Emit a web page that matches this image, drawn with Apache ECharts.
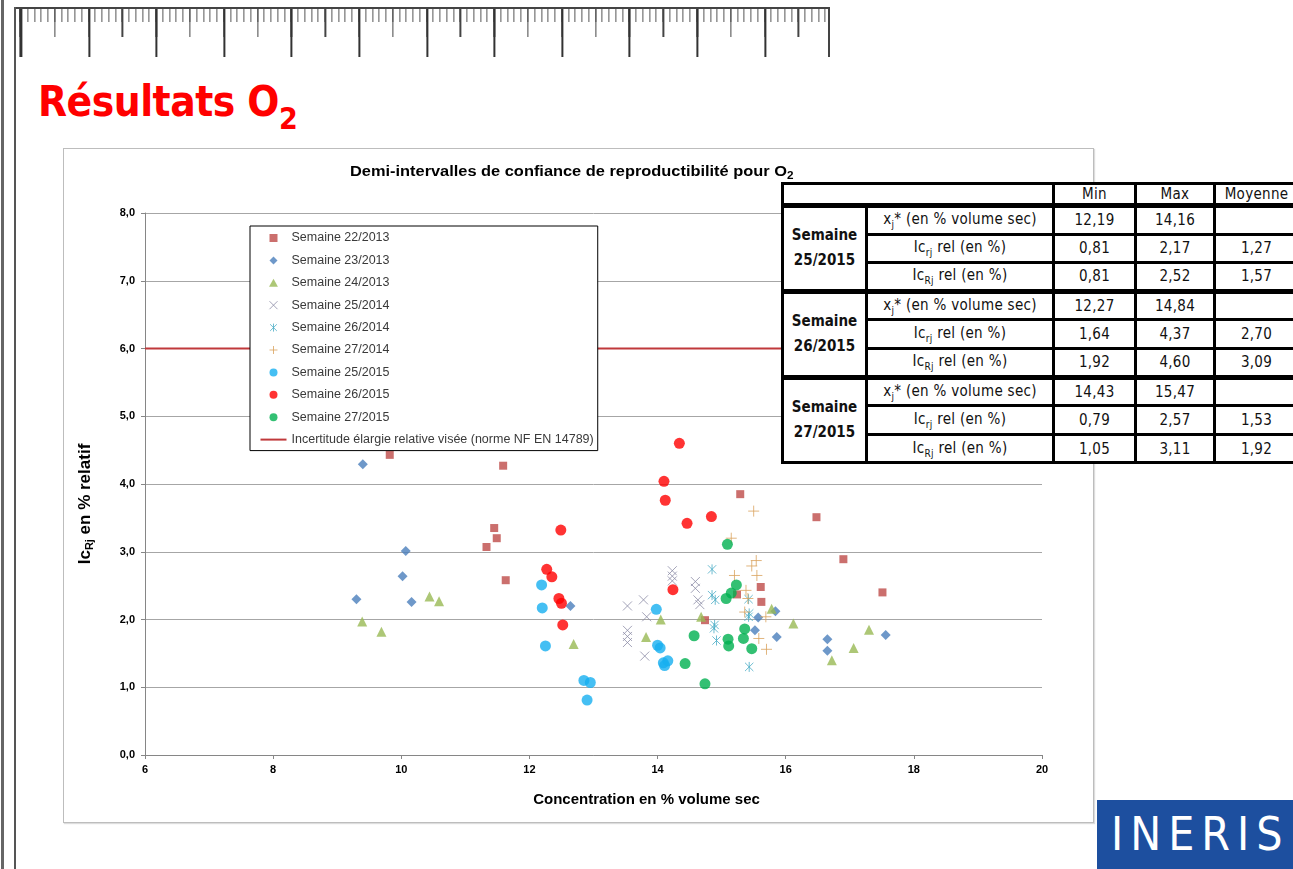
<!DOCTYPE html>
<html>
<head>
<meta charset="utf-8">
<script src="https://cdn.jsdelivr.net/npm/echarts@6/dist/echarts.min.js"></script>
<style>
body{margin:0;width:1293px;height:869px;background:#fff;position:relative;overflow:hidden;font-family:"DejaVu Sans Condensed","DejaVu Sans",sans-serif}
#bordL1{position:absolute;left:1px;top:0;width:3px;height:869px;background:#666}
#bordL2{position:absolute;left:14px;top:7px;width:2px;height:862px;background:#555}
#ruler{position:absolute;left:16px;top:7px;width:812px;height:48px;border-top:2px solid #444;border-right:2px solid #444;
  background-image:
    repeating-linear-gradient(to right,#333 0 2px,transparent 2px 67.6px),
    repeating-linear-gradient(to right,#444 0 1.5px,transparent 1.5px 33.8px),
    repeating-linear-gradient(to right,#555 0 1px,transparent 1px 6.76px);
  background-size:100% 48px,100% 28px,100% 13px;
  background-repeat:repeat-x;
  background-position:4.4px 0,4.4px 0,4.4px 0}
#titre{position:absolute;left:38px;top:77px;color:#f00;font-weight:bold;font-size:42px;letter-spacing:-0.5px}
#titre sub{font-size:30px;vertical-align:-13px;line-height:0}
#cadre{position:absolute;left:63px;top:148px;width:1029px;height:673px;border:1px solid #bdbdbd;box-shadow:1px 1px 1px #ddd}
#chart{position:absolute;left:0;top:0;width:1293px;height:869px}
#tab{position:absolute;left:781px;top:182px;border-collapse:collapse;font-size:15px;letter-spacing:0.3px;color:#111;background:#fff;table-layout:fixed;width:516px}
#tab td{border:3px solid #000;text-align:center;padding:0;white-space:nowrap;overflow:visible}
#tab tr{height:28.6px}
#tab tr.h{height:22px}
#tab td.sem{font-weight:bold;line-height:25px;letter-spacing:0}
#tab tr.g td{border-top-width:5px}
#tab sub{font-size:10px;color:#111}
#logo{position:absolute;left:1097px;top:800px;width:196px;height:69px;background:#1d4f9f;color:#fff;font-family:"DejaVu Sans Condensed","DejaVu Sans",sans-serif;font-size:46px;line-height:69px;text-indent:14px;letter-spacing:7px}
</style>
</head>
<body>
<div id="bordL1"></div>
<div id="bordL2"></div>
<div id="ruler"></div>
<div id="titre">Résultats O<sub>2</sub></div>
<div id="cadre"></div>
<div id="chart"></div>
<table id="tab"></table>
<div id="logo">INERIS</div>
<script>
// noms des séries
var semaines = ['Semaine 22/2013', 'Semaine 23/2013', 'Semaine 24/2013', 'Semaine 25/2014', 'Semaine 26/2014',
    'Semaine 27/2014', 'Semaine 25/2015', 'Semaine 26/2015', 'Semaine 27/2015'];
var nomSeuil = 'Incertitude élargie relative visée (norme NF EN 14789)';

// [concentration, IcRj]
var s22_2013 = [[9.82, 4.43], [11.59, 4.27], [11.45, 3.35], [11.49, 3.20], [11.33, 3.07], [11.63, 2.58], [15.29, 3.85],
    [16.48, 3.51], [16.90, 2.89], [17.51, 2.40], [15.61, 2.48], [15.62, 2.26], [15.24, 2.37], [14.74, 1.99]];
var s23_2013 = [[9.40, 4.29], [10.07, 3.01], [10.02, 2.64], [9.30, 2.30], [10.16, 2.26], [12.64, 2.20], [15.57, 2.03],
    [15.84, 2.12], [15.52, 1.84], [15.86, 1.74], [16.65, 1.71], [16.65, 1.54], [17.56, 1.77]];
var s24_2013 = [[9.39, 1.97], [9.69, 1.82], [10.44, 2.34], [10.59, 2.27], [12.69, 1.64], [13.82, 1.74], [14.05, 2.00],
    [14.68, 2.04], [15.78, 2.16], [16.12, 1.94], [16.72, 1.40], [17.06, 1.58], [17.30, 1.85]];
var s25_2014 = [[13.53, 2.20], [13.78, 2.29], [13.83, 2.04], [13.53, 1.84], [13.53, 1.75], [13.53, 1.66], [13.80, 1.46],
    [14.23, 2.72], [14.23, 2.64], [14.23, 2.57], [14.59, 2.56], [14.59, 2.46], [14.63, 2.29], [14.66, 2.22]];
var s26_2014 = [[14.85, 2.74], [14.85, 2.36], [14.90, 2.29], [14.89, 1.92], [14.88, 1.87], [14.92, 1.69], [15.42, 2.30],
    [15.43, 2.09], [15.42, 2.04], [15.43, 1.30]];
var s27_2014 = [[15.50, 3.60], [15.15, 3.20], [15.54, 2.87], [15.47, 2.79], [15.55, 2.65], [15.20, 2.65], [15.38, 2.43],
    [15.41, 2.31], [15.36, 2.11], [15.69, 2.04], [15.58, 1.72], [15.70, 1.56]];
var s25_2015 = [[12.19, 2.51], [12.20, 2.17], [12.25, 1.61], [12.85, 1.10], [12.95, 1.07], [12.90, 0.81], [13.98, 2.15],
    [14.00, 1.62], [14.04, 1.58], [14.09, 1.36], [14.16, 1.39], [14.11, 1.32]];
var s26_2015 = [[14.34, 4.60], [14.10, 4.04], [14.12, 3.76], [14.46, 3.42], [14.84, 3.52], [12.49, 3.32], [12.27, 2.74],
    [12.35, 2.63], [12.46, 2.31], [12.50, 2.24], [12.52, 1.92], [14.24, 2.44]];
var s27_2015 = [[15.09, 3.11], [15.23, 2.51], [15.15, 2.39], [15.07, 2.31], [14.57, 1.76], [14.43, 1.35], [14.74, 1.05],
    [15.10, 1.71], [15.11, 1.61], [15.36, 1.86], [15.34, 1.72], [15.47, 1.57]];
var seuil = [[6, 6], [20, 6]];

// tableau de synthèse
var enteteTab = ['Min', 'Max', 'Moyenne'];
var libellesTab = ['x<sub>j</sub>* (en % volume sec)', 'Ic<sub>rj</sub> rel (en %)', 'Ic<sub>Rj</sub> rel (en %)'];
var semainesTab = ['Semaine<br>25/2015', 'Semaine<br>26/2015', 'Semaine<br>27/2015'];
var valeursTab = [
    [['12,19', '14,16', ''], ['0,81', '2,17', '1,27'], ['0,81', '2,52', '1,57']],
    [['12,27', '14,84', ''], ['1,64', '4,37', '2,70'], ['1,92', '4,60', '3,09']],
    [['14,43', '15,47', ''], ['0,79', '2,57', '1,53'], ['1,05', '3,11', '1,92']]
];

var html = '<colgroup><col style="width:84px"><col style="width:187px"><col style="width:82px"><col style="width:79px"><col style="width:84px"></colgroup>';
html += '<tr class="h"><td colspan="2"></td>' + enteteTab.map(function (h) { return '<td>' + h + '</td>'; }).join('') + '</tr>';
semainesTab.forEach(function (sem, g) {
    valeursTab[g].forEach(function (ligne, i) {
        html += '<tr' + (i === 0 ? ' class="g"' : '') + '>';
        if (i === 0) html += '<td rowspan="3" class="sem">' + sem + '</td>';
        html += '<td>' + libellesTab[i] + '</td>';
        html += ligne.map(function (v) { return '<td>' + v + '</td>'; }).join('') + '</tr>';
    });
});
document.getElementById('tab').innerHTML = html;

// symboles
var symX = 'path://M0,0L10,10M10,0L0,10';
var symEtoile = 'path://M0,0L10,10M10,0L0,10M5,-1L5,11';
var symPlus = 'path://M5,0L5,10M0,5L10,5';
var symCarre = 'path://M0,0L10,0L10,10L0,10Z';
var symLosange = 'path://M5,0L10,5L5,10L0,5Z';
var symTriangle = 'path://M5,0L10,9L0,9Z';
var iconeTrait = 'path://M0,0M26,8M0,4L26,4';

function nuage(nom, data, symbole, taille, couleur, trait) {
    return {
        name: nom,
        type: 'scatter',
        data: data,
        symbol: symbole,
        symbolSize: taille,
        symbolKeepAspect: true,
        itemStyle: trait ? { color: couleur, borderColor: couleur, borderWidth: 1 } : { color: couleur },
        z: 3
    };
}

var legendeIcones = [
    { icon: symCarre, itemStyle: { borderWidth: 0 } },
    { icon: symLosange, itemStyle: { borderWidth: 0 } },
    { icon: symTriangle, itemStyle: { borderWidth: 0 } },
    { itemStyle: { borderWidth: 1 } },
    { itemStyle: { borderWidth: 1 } },
    { itemStyle: { borderWidth: 1 } },
    {}, {}, {}
];

var myChart = echarts.init(document.getElementById('chart'));
var police = 'Liberation Sans, Arial, sans-serif';
var option = {
    animation: false,
    graphic: [{
        type: 'text',
        x: 350,
        y: 163,
        scaleX: 1.17,
        style: {
            text: 'Demi-intervalles de confiance de reproductibilité pour O{s|2}',
            font: 'bold 14px Liberation Sans, Arial, sans-serif',
            fill: '#000',
            verticalAlign: 'top',
            rich: {
                s: { font: 'bold 10px Liberation Sans, Arial, sans-serif', fill: '#000', padding: [8, 0, 0, 0] }
            }
        }
    }],
    grid: { left: 145, right: 251, top: 213, bottom: 114 },
    legend: {
        orient: 'vertical',
        left: 250,
        top: 226,
        backgroundColor: '#fff',
        borderColor: '#000',
        borderWidth: 1,
        padding: [5, 4, 4, 8],
        itemWidth: 26,
        itemHeight: 8,
        itemGap: 8.4,
        symbolKeepAspect: true,
        textStyle: { fontFamily: police, fontSize: 12.5, color: '#3a3a3a', lineHeight: 14 },
        data: semaines.map(function (n, i) {
            return Object.assign({ name: n }, legendeIcones[i]);
        }).concat([{ name: nomSeuil, icon: iconeTrait, itemStyle: { color: 'none', borderColor: '#c0393b', borderWidth: 2 } }])
    },
    xAxis: {
        type: 'value',
        min: 6, max: 20, interval: 2,
        name: 'Concentration en % volume sec',
        nameLocation: 'middle',
        nameGap: 37,
        nameTextStyle: { fontFamily: police, fontSize: 15, fontWeight: 'bold', color: '#000', padding: [0, 0, 0, 106] },
        axisLine: { lineStyle: { color: '#868686' } },
        axisTick: { length: 4, lineStyle: { color: '#868686' } },
        axisLabel: { fontFamily: police, fontSize: 11, fontWeight: 'bold', color: '#000', margin: 9 },
        splitLine: { show: false }
    },
    yAxis: {
        type: 'value',
        min: 0, max: 8, interval: 1,
        name: '{b|Ic}{s|Rj}{b| en % relatif}',
        nameLocation: 'middle',
        nameGap: 50,
        nameRotate: 90,
        nameTextStyle: {
            padding: [0, 40, 0, 0],
            rich: {
                b: { fontFamily: police, fontSize: 17, fontWeight: 'bold', color: '#000' },
                s: { fontFamily: police, fontSize: 11, fontWeight: 'bold', color: '#000', padding: [8, 0, 0, 0] }
            }
        },
        axisLine: { show: true, lineStyle: { color: '#868686' } },
        axisTick: { show: true, length: 4, lineStyle: { color: '#868686' } },
        axisLabel: {
            fontFamily: police, fontSize: 11, fontWeight: 'bold', color: '#000', margin: 10,
            formatter: function (v) { return v.toFixed(1).replace('.', ','); }
        },
        splitLine: { lineStyle: { color: '#a6a6a6' } }
    },
    series: [
        nuage(semaines[0], s22_2013, 'rect', 8, '#be4b48'),
        nuage(semaines[1], s23_2013, 'diamond', 10, '#4a7ebb'),
        nuage(semaines[2], s24_2013, 'triangle', 10, '#98b954'),
        nuage(semaines[3], s25_2014, symX, 9, '#8c8ca6', true),
        nuage(semaines[4], s26_2014, symEtoile, 10, '#4aacc5', true),
        nuage(semaines[5], s27_2014, symPlus, 11, '#d9a25e', true),
        nuage(semaines[6], s25_2015, 'circle', 11, '#17aff0'),
        nuage(semaines[7], s26_2015, 'circle', 11, '#ff0000'),
        nuage(semaines[8], s27_2015, 'circle', 11, '#00b050'),
        {
            name: nomSeuil,
            type: 'line',
            data: seuil,
            symbol: 'none',
            lineStyle: { color: '#c0393b', width: 2 },
            z: 2
        }
    ]
};
myChart.setOption(option);
</script>
</body>
</html>
